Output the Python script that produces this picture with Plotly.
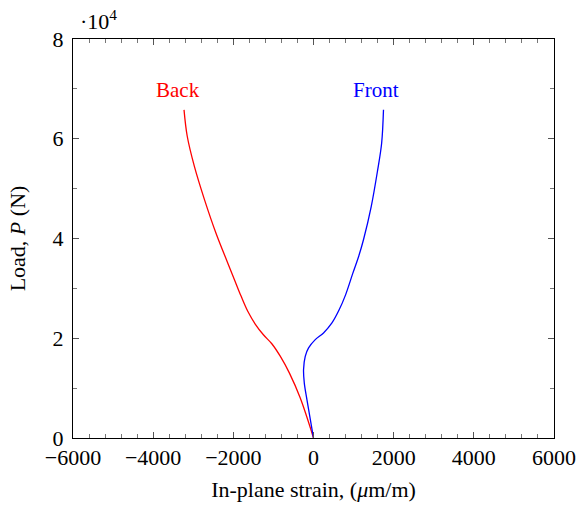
import plotly.graph_objects as go

# Data (strain in µm/m, load in N)
back_strain = [0, -330, -600, -830, -1040, -1250, -1450, -1640, -1810, -1980, -2150, -2430, -2720, -2970, -3150, -3230]
back_load = [0, 8000, 13000, 16400, 18900, 20700, 22800, 25400, 28500, 31900, 35300, 41000, 47800, 54400, 60500, 65800]

front_strain = [0, -160, -230, -248, -206, -123, 44, 250, 460, 640, 800, 980, 1130, 1247, 1440, 1600, 1700, 1746]
front_load = [0, 7500, 11054, 13717, 16380, 18063, 19725, 21066, 23069, 25700, 28700, 33000, 36500, 39750, 46400, 53700, 59100, 65800]

x_ticks = [-6000, -4000, -2000, 0, 2000, 4000, 6000]
y_ticks = [0, 20000, 40000, 60000, 80000]
y_ticktext = ["0", "2", "4", "6", "8"]

FONT = "Liberation Serif"
FS = 22

fig = go.Figure()
fig.add_trace(go.Scatter(x=back_strain, y=back_load, mode="lines", name="Back",
                         line=dict(color="#ff0000", width=1.3, shape="spline", smoothing=1.0)))
fig.add_trace(go.Scatter(x=front_strain, y=front_load, mode="lines", name="Front",
                         line=dict(color="#0000ff", width=1.3, shape="spline", smoothing=1.0)))

fig.add_annotation(x=-3370, y=69800, text="Back", showarrow=False,
                   font=dict(family=FONT, size=FS - 1, color="#ff0000"), xanchor="center", yanchor="middle")
fig.add_annotation(x=1564, y=69800, text="Front", showarrow=False,
                   font=dict(family=FONT, size=FS - 1, color="#0000ff"), xanchor="center", yanchor="middle")
fig.add_annotation(xref="paper", yref="paper", x=0.01, y=1.0, yshift=3, text="·10<sup>4</sup>", showarrow=False,
                   font=dict(family=FONT, size=FS, color="black"), xanchor="left", yanchor="bottom")

axis_common = dict(
    showgrid=False, zeroline=False, showline=True, linecolor="black", linewidth=1,
    mirror="ticks", ticks="inside", ticklen=6, tickwidth=1, tickcolor="#555",
    tickfont=dict(family=FONT, size=FS, color="black"), automargin=False,
)

fig.update_xaxes(range=[-6000, 6000], tickvals=x_ticks,
                 minor=dict(dtick=400, ticks="inside", ticklen=4, tickwidth=1, tickcolor="#777"),
                 title=dict(text="In-plane strain, (<i>μ</i>m/m)", font=dict(family=FONT, size=FS, color="black"), standoff=12),
                 **axis_common)
fig.update_yaxes(range=[0, 80000], tickvals=y_ticks, ticktext=y_ticktext, ticklabelstandoff=4,
                 minor=dict(dtick=10000, ticks="inside", ticklen=4, tickwidth=1, tickcolor="#777"),
                 title=dict(text="Load, <i>P</i> (N)", font=dict(family=FONT, size=FS, color="black"), standoff=20),
                 **axis_common)

fig.update_layout(
    width=579, height=511,
    margin=dict(l=72.5, r=25, t=39, b=72.5),
    plot_bgcolor="white", paper_bgcolor="white",
    showlegend=False,
)

fig.write_html("out.html")
